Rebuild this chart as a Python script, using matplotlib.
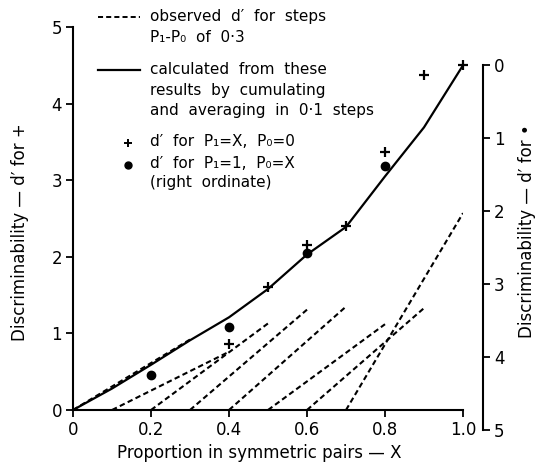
import matplotlib
matplotlib.use('Agg')
import matplotlib.pyplot as plt
from matplotlib.lines import Line2D

# proportion in symmetric pairs
x_curve = [0.0, 0.1, 0.2, 0.3, 0.4, 0.5, 0.6, 0.7, 0.8, 0.9, 1.0]
d_curve = [0.0, 0.28, 0.59, 0.91, 1.21, 1.58, 2.03, 2.39, 3.05, 3.69, 4.5]

# observed d' for steps of 0.3 (start P0, end P1, d' at end)
step_p0 = [0.0, 0.1, 0.2, 0.3, 0.4, 0.5, 0.6, 0.7]
step_p1 = [0.3, 0.4, 0.5, 0.6, 0.7, 0.8, 0.9, 1.0]
step_d = [0.92, 0.76, 1.13, 1.31, 1.35, 1.12, 1.33, 2.57]

# d' for P1 = X, P0 = 0 (left ordinate)
x_plus = [0.4, 0.5, 0.6, 0.7, 0.8, 0.9, 1.0]
d_plus = [0.86, 1.61, 2.15, 2.40, 3.37, 4.37, 4.5]

# d' for P1 = 1, P0 = X (right ordinate)
x_dot = [0.2, 0.4, 0.6, 0.8]
d_dot = [4.25, 3.59, 2.58, 1.38]

legend_text = [
    ["observed  d′  for  steps", "P₁-P₀  of  0·3"],
    ["calculated  from  these", "results  by  cumulating", "and  averaging  in  0·1  steps"],
    ["d′  for  P₁=X,  P₀=0"],
    ["d′  for  P₁=1,  P₀=X", "(right  ordinate)"],
]

W, H = 539, 468
fig = plt.figure(figsize=(W / 100, H / 100), dpi=100)


def px(x, y):
    # pixel position (from top left) to figure fraction
    return x / W, 1 - y / H


ax = fig.add_axes([73 / W, 58 / H, 390 / W, 383 / H])
ax.set_xlim(0, 1.0)
ax.set_ylim(0, 5)
for s in ['top', 'right']:
    ax.spines[s].set_visible(False)
for s in ['left', 'bottom']:
    ax.spines[s].set_linewidth(1.5)
ax.set_xticks([0, 0.2, 0.4, 0.6, 0.8, 1.0])
ax.set_xticklabels(['0', '0.2', '0.4', '0.6', '0.8', '1.0'])
ax.set_yticks([0, 1, 2, 3, 4, 5])
ax.tick_params(direction='out', length=5, width=1.3, labelsize=12, pad=3)

# dashed steps
for p0, p1, d in zip(step_p0, step_p1, step_d):
    ax.plot([p0, p1], [0, d], color='black', lw=1.5, dashes=(2.6, 1.6))

# calculated curve
ax.plot(x_curve, d_curve, color='black', lw=1.6)
ax.plot(x_plus, d_plus, linestyle='none', marker='+', ms=7, mew=1.6,
        color='black', clip_on=False)

# right ordinate (inverted, offset)
ax2 = fig.add_axes([73 / W, 38 / H, 410 / W, 365 / H])
ax2.patch.set_visible(False)
ax2.set_xlim(0, 410 / 390)
ax2.set_ylim(5, 0)
for s in ['top', 'left', 'bottom']:
    ax2.spines[s].set_visible(False)
ax2.spines['right'].set_linewidth(1.5)
ax2.set_xticks([])
ax2.yaxis.tick_right()
ax2.set_yticks([0, 1, 2, 3, 4, 5])
ax2.tick_params(direction='out', length=5, width=1.3, labelsize=12, pad=3)
ax2.plot(x_dot, d_dot, linestyle='none', marker='o', ms=6, color='black')

# axis labels
fs = 12
fig.text(*px(20, 232), "Discriminability — d′ for +", rotation=90,
         ha='center', va='center', fontsize=fs)
fig.text(*px(527, 231), "Discriminability — d′ for •", rotation=90,
         ha='center', va='center', fontsize=fs)
fig.text(*px(259, 453), "Proportion in symmetric pairs — X",
         ha='center', va='center', fontsize=fs)

# legend, drawn by hand so the keys sit on the first line of each entry
lfs = 11
line_h = 20
tops = [17, 70, 141, 163]
for top, lines in zip(tops, legend_text):
    for i, t in enumerate(lines):
        fig.text(*px(150, top + i * line_h), t, ha='left', va='center',
                 fontsize=lfs)
x0, y0 = px(98, tops[0])
x1, _ = px(140, tops[0])
fig.add_artist(Line2D([x0, x1], [y0, y0], color='black', lw=1.4,
                      dashes=(2.6, 1.6), transform=fig.transFigure))
x0, y0 = px(98, tops[1])
fig.add_artist(Line2D([x0, x1], [y0, y0], color='black', lw=1.6,
                      transform=fig.transFigure))
xm, ym = px(128, tops[2] + 2)
fig.add_artist(Line2D([xm], [ym], color='black', linestyle='none', marker='+',
                      ms=6, mew=1.4, transform=fig.transFigure))
xm, ym = px(128, tops[3] + 2)
fig.add_artist(Line2D([xm], [ym], color='black', linestyle='none', marker='o',
                      ms=5, transform=fig.transFigure))

fig.savefig('out.png', dpi=100)
